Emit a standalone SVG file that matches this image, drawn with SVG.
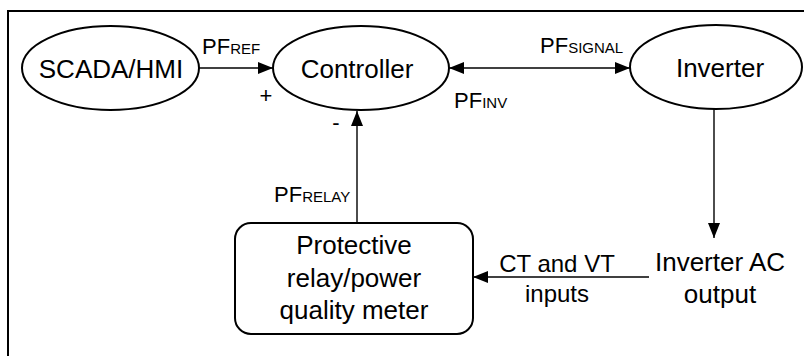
<svg xmlns="http://www.w3.org/2000/svg" width="804" height="356" viewBox="0 0 804 356">
  <style>
    text { font-family: "Liberation Sans", Arial, Helvetica, sans-serif; fill: #000; }
    .node { fill: #fff; stroke: #000; stroke-width: 2; }
    .big { font-size: 26px; text-anchor: middle; }
    .lbl { font-size: 22px; }
    .cap { font-size: 24px; }
    .sub { font-size: 15px; }
    .mid { text-anchor: middle; }
    .wire { fill: none; stroke: #000; stroke-width: 1.4; }
    .frame { fill: none; stroke: #000; stroke-width: 2; }
  </style>
  <defs>
    <marker id="arrow" markerUnits="userSpaceOnUse" markerWidth="15" markerHeight="12" refX="15" refY="6" orient="auto-start-reverse">
      <path d="M0,0 L15,6 L0,12 Z" fill="#000"/>
    </marker>
  </defs>

  <rect width="804" height="356" fill="#fff"/>

  <!-- outer frame (open on right and bottom) -->
  <path class="frame" d="M8,360 V11 H810"/>

  <!-- connectors -->
  <g id="connectors">
    <line class="wire" x1="199" y1="68" x2="273" y2="68" marker-end="url(#arrow)"/>
    <line class="wire" x1="449" y1="68" x2="630" y2="68" marker-start="url(#arrow)" marker-end="url(#arrow)"/>
    <line class="wire" x1="357" y1="223" x2="357" y2="111" marker-end="url(#arrow)"/>
    <line class="wire" x1="714" y1="109" x2="714" y2="238" marker-end="url(#arrow)"/>
    <line class="wire" x1="649" y1="277" x2="473" y2="277" marker-end="url(#arrow)"/>

    <text class="lbl" x="202" y="54">PF<tspan class="sub">REF</tspan></text>
    <text class="lbl mid" x="266" y="103">+</text>
    <text class="lbl mid" x="336" y="130">-</text>
    <text class="lbl" x="540" y="53">PF<tspan class="sub">SIGNAL</tspan></text>
    <text class="lbl" x="454" y="108">PF<tspan class="sub">INV</tspan></text>
    <text class="lbl" x="274" y="202">PF<tspan class="sub">RELAY</tspan></text>
    <text class="cap mid" x="557" y="272">CT and VT</text>
    <text class="cap mid" x="557" y="302">inputs</text>
  </g>

  <g id="scada">
    <ellipse class="node" cx="110.5" cy="68" rx="88.5" ry="42"/>
    <text class="big" x="111" y="78">SCADA/HMI</text>
  </g>

  <g id="controller">
    <ellipse class="node" cx="361" cy="68" rx="88" ry="42"/>
    <text class="big" x="357" y="78">Controller</text>
  </g>

  <g id="inverter">
    <ellipse class="node" cx="716" cy="67" rx="86" ry="42"/>
    <text class="big" x="720" y="77">Inverter</text>
  </g>

  <g id="relay">
    <rect class="node" x="235" y="223" width="238" height="111" rx="16" ry="16"/>
    <text class="big" x="354" y="254">Protective</text>
    <text class="big" x="354" y="287">relay/power</text>
    <text class="big" x="354" y="319">quality meter</text>
  </g>

  <g id="ac-output">
    <text class="big" x="720" y="271">Inverter AC</text>
    <text class="big" x="720" y="303">output</text>
  </g>
</svg>
